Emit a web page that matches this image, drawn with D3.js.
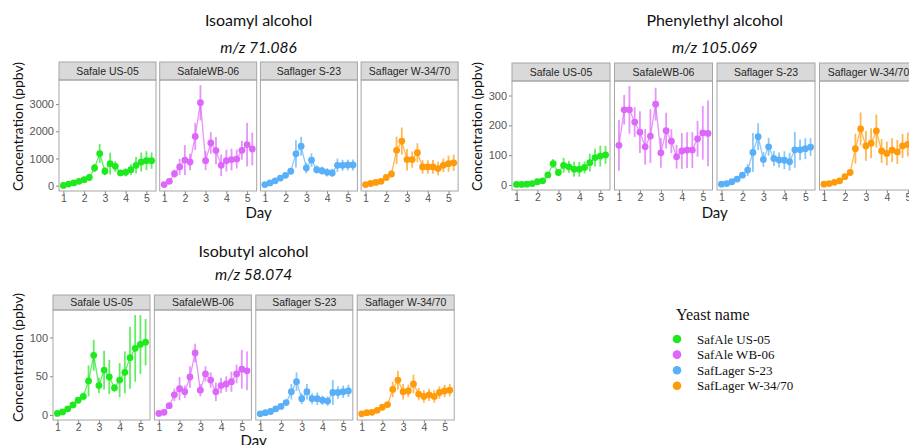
<!DOCTYPE html>
<html>
<head>
<meta charset="utf-8">
<script src="https://cdn.jsdelivr.net/npm/d3@7"></script>
<style>
  body { margin: 0; background: #fff; }
  svg { display: block; }
</style>
</head>
<body>
<svg id="chart"></svg>
<script>
// Set up the SVG dimensions
const width = 909;
const height = 445;

// sampling days (every 6 h)
const days = [1, 1.25, 1.5, 1.75, 2, 2.25, 2.5, 2.75, 3, 3.25, 3.5, 3.75, 4, 4.25, 4.5, 4.75, 5, 5.25];
const strainLabels = ["Safale US-05", "SafaleWB-06", "Saflager S-23", "Saflager W-34/70"];
const legendLabels = ["SafAle US-05", "SafAle WB-06", "SafLager S-23", "SafLager W-34/70"];
const strainColors = ["#1ee81e", "#dd66fb", "#5ab0f8", "#ff9a0a"];
const xTicks = [1, 2, 3, 4, 5];

// Isoamyl alcohol, m/z 71.086 (mean, sd) per strain
const isoamylMean = [
  [10, 60, 100, 160, 220, 300, 650, 1180, 530, 810, 710, 470, 490, 590, 750, 870, 920, 920],
  [40, 160, 440, 690, 940, 870, 1810, 3050, 920, 1570, 1290, 750, 920, 960, 980, 1300, 1510, 1350],
  [40, 100, 180, 280, 380, 530, 1170, 1450, 650, 940, 590, 550, 490, 470, 750, 750, 760, 760],
  [40, 80, 120, 160, 300, 430, 1300, 1640, 960, 960, 1210, 690, 690, 690, 630, 750, 810, 840]
];
const isoamylErr = [
  [20, 30, 30, 40, 50, 60, 150, 350, 150, 400, 200, 100, 150, 200, 300, 350, 350, 300],
  [30, 50, 150, 300, 550, 300, 500, 650, 350, 400, 500, 400, 400, 400, 350, 350, 800, 600],
  [30, 40, 50, 60, 80, 100, 500, 350, 200, 250, 150, 150, 150, 150, 250, 200, 200, 200],
  [30, 40, 50, 60, 80, 120, 500, 500, 400, 300, 350, 250, 250, 250, 250, 250, 300, 300]
];
const isoamylTicks = [0, 1000, 2000, 3000];

// Phenylethyl alcohol, m/z 105.069
const phenylMean = [
  [2, 2, 3, 5, 11, 14, 34, 72, 42, 66, 61, 53, 53, 59, 75, 92, 97, 101],
  [133, 252, 252, 211, 177, 128, 164, 271, 108, 182, 147, 95, 114, 117, 117, 155, 175, 173],
  [3, 5, 11, 20, 33, 50, 109, 162, 86, 128, 89, 84, 83, 78, 118, 118, 122, 127],
  [3, 5, 9, 14, 28, 42, 122, 188, 131, 140, 181, 114, 106, 117, 111, 131, 136, 142]
];
const phenylErr = [
  [2, 2, 3, 3, 4, 5, 8, 15, 10, 25, 20, 25, 25, 20, 30, 30, 35, 30],
  [85, 50, 80, 50, 70, 60, 90, 55, 50, 60, 40, 40, 60, 60, 60, 60, 90, 110],
  [2, 3, 3, 4, 6, 20, 65, 45, 25, 30, 25, 25, 30, 30, 60, 35, 35, 30],
  [2, 3, 3, 4, 6, 8, 50, 55, 50, 50, 55, 40, 40, 40, 40, 40, 40, 40]
];
const phenylTicks = [0, 100, 200, 300];

// Isobutyl alcohol, m/z 58.074
const isobutylMean = [
  [2, 4, 8, 13, 19, 24, 44, 77, 38, 58, 49, 35, 45, 55, 74, 86, 91, 94],
  [2, 3.5, 12, 26, 34, 30, 49, 80, 32, 53, 45, 30, 38, 40, 43, 53, 59, 57],
  [1.5, 3, 4.5, 8, 11, 16, 30, 43, 21, 30, 21, 21, 19, 18, 29, 29, 30, 31],
  [1.5, 3, 3.5, 6, 10, 13.5, 33, 45, 30, 31, 40, 27, 24, 26, 24, 29, 31, 32]
];
const isobutylErr = [
  [2, 2, 3, 3, 4, 5, 20, 20, 10, 25, 22, 5, 22, 27, 40, 43, 38, 30],
  [1, 1, 3, 8, 15, 8, 14, 12, 8, 10, 10, 12, 10, 10, 13, 12, 25, 25],
  [1, 1, 1, 2, 2, 3, 10, 12, 7, 10, 7, 8, 6, 6, 16, 8, 8, 8],
  [1, 1, 1, 2, 2, 3, 10, 12, 10, 8, 12, 8, 8, 8, 8, 8, 8, 8]
];
const isobutylTicks = [0, 50, 100];

// each facet block: titles, data and where it sits on the page
const blocks = [
  { title: "Isoamyl alcohol", sub: "m/z 71.086", mean: isoamylMean, err: isoamylErr, ticks: isoamylTicks,
    left: 59, panelW: 97, step: 100.7, stripTop: 62, stripH: 18, bottom: 191,
    titleY: 26, subY: 53, yLabX: 18, dayY: 218 },
  { title: "Phenylethyl alcohol", sub: "m/z 105.069", mean: phenylMean, err: phenylErr, ticks: phenylTicks,
    left: 512, panelW: 98, step: 102.5, stripTop: 63, stripH: 18, bottom: 190,
    titleY: 26, subY: 53, yLabX: 477, dayY: 218 },
  { title: "Isobutyl alcohol", sub: "m/z 58.074", mean: isobutylMean, err: isobutylErr, ticks: isobutylTicks,
    left: 53, panelW: 97, step: 101.4, stripTop: 295, stripH: 15, bottom: 420,
    titleY: 257, subY: 280, yLabX: 18, dayY: 446 }
];

const svg = d3.select("#chart")
  .attr("width", width)
  .attr("height", height);

const SANS = "Lato, 'Open Sans', sans-serif";
const ARIAL = "'Liberation Sans', Arial, sans-serif";
const SERIF = "'Liberation Serif', 'Times New Roman', serif";

blocks.forEach(b => {
  const g = svg.append("g");
  const plotTop = b.stripTop + b.stripH;
  const right = b.left + 3 * b.step + b.panelW;
  const midX = (b.left + right) / 2;

  // y scale shared by the 4 facets, ggplot-like 5% expansion
  let lo = Infinity, hi = -Infinity;
  b.mean.forEach((s, i) => s.forEach((v, j) => {
    lo = Math.min(lo, v - b.err[i][j]);
    hi = Math.max(hi, v + b.err[i][j]);
  }));
  const padY = (hi - lo) * 0.05;
  const y = d3.scaleLinear().domain([lo - padY, hi + padY]).range([b.bottom, plotTop]);

  const xExt = d3.extent(days);
  const padX = (xExt[1] - xExt[0]) * 0.05;

  // titles
  g.append("text").attr("x", midX).attr("y", b.titleY)
    .attr("text-anchor", "middle").style("font", `16px ${SANS}`).attr("fill", "#111")
    .text(b.title);
  g.append("text").attr("x", midX).attr("y", b.subY)
    .attr("text-anchor", "middle").style("font", `italic 15.5px ${SANS}`).attr("fill", "#111")
    .text(b.sub);

  // axis titles
  g.append("text")
    .attr("transform", `translate(${b.yLabX},${(b.stripTop + b.bottom) / 2}) rotate(-90)`)
    .attr("text-anchor", "middle").attr("dy", "0.35em")
    .style("font", `14px ${SANS}`).attr("fill", "#111")
    .text("Concentration (ppbv)");
  g.append("text").attr("x", midX).attr("y", b.dayY)
    .attr("text-anchor", "middle").style("font", `15px ${SANS}`).attr("fill", "#111")
    .text("Day");

  strainLabels.forEach((name, i) => {
    const x0 = b.left + i * b.step;
    const x = d3.scaleLinear().domain([xExt[0] - padX, xExt[1] + padX]).range([x0, x0 + b.panelW]);
    const pg = g.append("g");

    // strip
    pg.append("rect")
      .attr("x", x0).attr("y", b.stripTop).attr("width", b.panelW).attr("height", b.stripH)
      .attr("fill", "#d9d9d9").attr("stroke", "#a6a6a6").attr("stroke-width", 1);
    pg.append("text")
      .attr("x", x0 + b.panelW / 2).attr("y", b.stripTop + b.stripH / 2).attr("dy", "0.36em")
      .attr("text-anchor", "middle").style("font", `10.5px ${ARIAL}`).attr("fill", "#262626")
      .text(name);

    // x axis
    const xAxis = pg.append("g")
      .attr("transform", `translate(0,${b.bottom})`)
      .call(d3.axisBottom(x).tickValues(xTicks).tickSize(3).tickPadding(1).tickFormat(d3.format("d")));
    xAxis.select(".domain").remove();
    xAxis.selectAll("line").attr("stroke", "#888");
    xAxis.selectAll("text").style("font", `10.5px ${ARIAL}`).attr("fill", "#555");

    // y axis only on first facet
    if (i === 0) {
      const yAxis = pg.append("g")
        .attr("transform", `translate(${x0},0)`)
        .call(d3.axisLeft(y).tickValues(b.ticks).tickSize(3).tickPadding(2).tickFormat(d3.format("d")));
      yAxis.select(".domain").remove();
      yAxis.selectAll("line").attr("stroke", "#888");
      yAxis.selectAll("text").style("font", `11px ${ARIAL}`).attr("fill", "#555");
    }

    const col = strainColors[i];
    const pts = days.map((d, j) => ({ d, m: b.mean[i][j], e: b.err[i][j] }));

    // error bars
    pg.selectAll("line.err")
      .data(pts)
      .enter()
      .append("line")
      .attr("class", "err")
      .attr("x1", p => x(p.d)).attr("x2", p => x(p.d))
      .attr("y1", p => y(p.m - p.e)).attr("y2", p => y(p.m + p.e))
      .attr("stroke", col).attr("stroke-width", 1.8).attr("stroke-opacity", 0.7);

    // connecting line
    pg.append("path")
      .datum(pts)
      .attr("d", d3.line().x(p => x(p.d)).y(p => y(p.m)))
      .attr("fill", "none").attr("stroke", col).attr("stroke-width", 1.3).attr("stroke-opacity", 0.7);

    // points
    pg.selectAll("circle")
      .data(pts)
      .enter()
      .append("circle")
      .attr("cx", p => x(p.d)).attr("cy", p => y(p.m))
      .attr("r", 3.4)
      .attr("fill", col);

    // panel border
    pg.append("rect")
      .attr("x", x0).attr("y", plotTop).attr("width", b.panelW).attr("height", b.bottom - plotTop)
      .attr("fill", "none").attr("stroke", "#a6a6a6").attr("stroke-width", 1);
  });
});

// legend
const legend = svg.append("g");
legend.append("text").attr("x", 676).attr("y", 320)
  .style("font", `16px ${SERIF}`).attr("fill", "#111").text("Yeast name");
legendLabels.forEach((lab, i) => {
  const cy = 339 + i * 15.6;
  legend.append("circle").attr("cx", 677).attr("cy", cy).attr("r", 4.3).attr("fill", strainColors[i]);
  legend.append("text").attr("x", 697).attr("y", cy).attr("dy", "0.35em")
    .style("font", `13px ${SERIF}`).attr("fill", "#111").text(lab);
});
</script>
</body>
</html>
